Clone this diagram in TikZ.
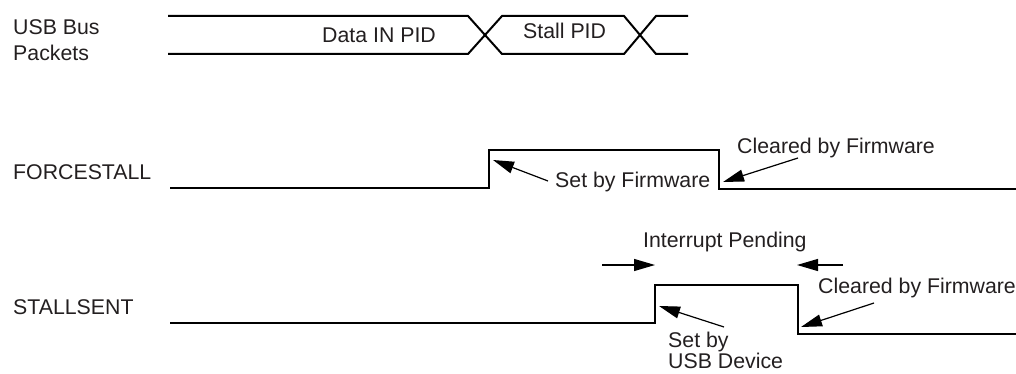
\documentclass[tikz,border=0pt]{standalone}
\usepackage{fontspec}
\setmainfont{Liberation Sans}
\usetikzlibrary{arrows.meta}
\definecolor{txtgray}{HTML}{231F20}
\tikzset{
  >={Triangle[length=21pt,width=12pt]},
  sig/.style={line width=2pt,line join=miter},
  bus/.style={line width=2pt},
  lbl/.style={font=\fontsize{21.3}{26}\selectfont,text=txtgray,inner sep=0pt,
    anchor=base west},
  note/.style={->,line width=1.2pt},
}
\begin{document}
\begin{tikzpicture}[x=1pt,y=-1pt]
  \useasboundingbox (0,0) rectangle (1016,374);
  % signal names
  \node[lbl] (busname) at (13,35) {USB Bus};
  \node[lbl] (buspkt) at (13,61) {Packets};
  \node[lbl] (fsname) at (13,179) {FORCESTALL};
  \node[lbl] (ssname) at (13,314) {STALLSENT};
  % bus packets
  \draw[bus] (168,16) -- (468,16) -- (502,54) -- (624,54) -- (656,16) -- (688,16);
  \draw[bus] (168,54) -- (468,54) -- (502,16) -- (624,16) -- (656,54) -- (688,54);
  \node[lbl] (datain) at (322,43) {Data IN PID};
  \node[lbl] (stallpid) at (523,39) {Stall PID};
  % FORCESTALL
  \draw[sig] (170,188) -- (489,188) -- (489,150) -- (719,150) -- (719,189) -- (1016,189);
  \node[lbl] (fsset) at (555,187) {Set by Firmware};
  \node[lbl] (fsclr) at (737,154) {Cleared by Firmware};
  \coordinate (fssettail) at (548,181);
  \coordinate (fsrise) at (493,160);
  \coordinate (fsclrtail) at (798,158);
  \coordinate (fsfall) at (723,182);
  \draw[note] (fssettail) -- (fsrise);
  \draw[note] (fsclrtail) -- (fsfall);
  % STALLSENT
  \draw[sig] (170,323) -- (655,323) -- (655,285) -- (798,285) -- (798,334) -- (1016,334);
  \node[lbl] (intpend) at (643,247) {Interrupt Pending};
  \coordinate (pendl) at (602,265);
  \coordinate (pendlend) at (655,265);
  \coordinate (pendr) at (843,265);
  \coordinate (pendrend) at (797,265);
  \draw[note] (pendl) -- (pendlend);
  \draw[note] (pendr) -- (pendrend);
  \node[lbl,align=left,text depth=0pt] (ssset) at (668,368) {Set by\\[-5pt]USB Device};
  \node[lbl] (ssclr) at (818,293) {Cleared by Firmware};
  \coordinate (sssettail) at (724,327);
  \coordinate (ssrise) at (659,306);
  \coordinate (ssclrtail) at (874,303);
  \coordinate (ssfall) at (801,327);
  \draw[note] (sssettail) -- (ssrise);
  \draw[note] (ssclrtail) -- (ssfall);
\end{tikzpicture}
\end{document}
